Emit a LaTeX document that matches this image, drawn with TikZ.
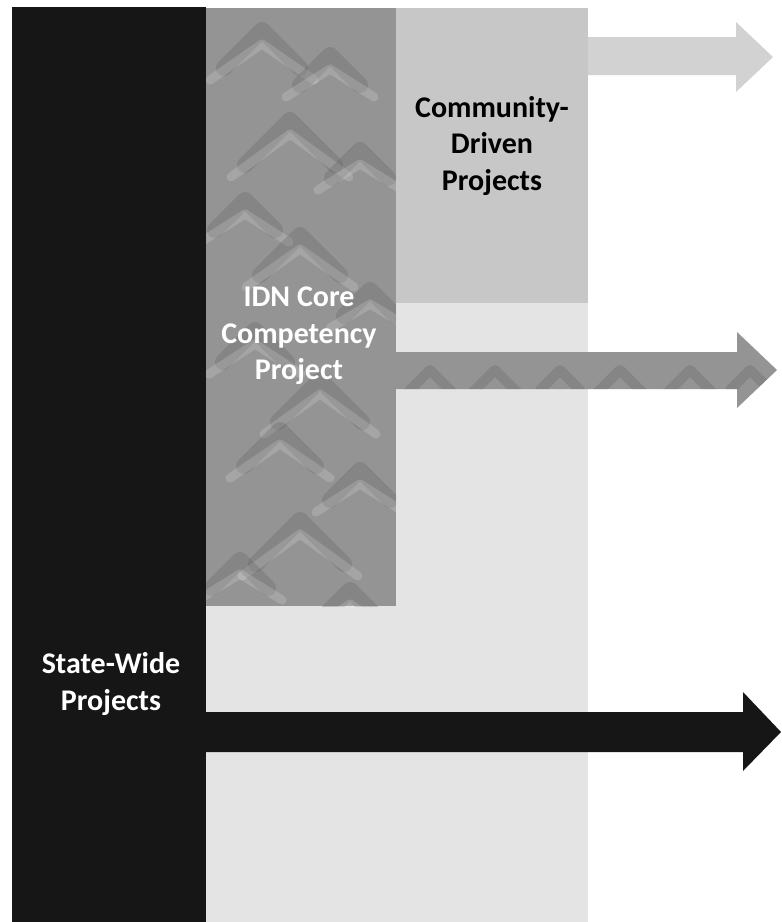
\documentclass[tikz,border=0pt]{standalone}
\usepackage{fontspec}
\setmainfont{Carlito}
\begin{document}
\begin{tikzpicture}[x=1pt,y=-1pt,
  panel/.style={rectangle, draw=none, inner sep=0pt, outer sep=0pt, anchor=north west},
  caption/.style={font=\bfseries\fontsize{30}{36.5}\selectfont, align=center, inner sep=0pt},
  grain/.style={line width=16pt, line cap=round, line join=round, draw=coregray!65!black, opacity=0.28},
  sheen/.style={line width=9pt, line cap=round, line join=round, draw=white, opacity=0.16},
]
\definecolor{statewide}{HTML}{161616}
\definecolor{coregray}{HTML}{949494}
\definecolor{community}{HTML}{C7C7C7}
\definecolor{lightbase}{HTML}{E4E4E4}
\definecolor{toparrow}{HTML}{D2D2D2}

\useasboundingbox (0,0) rectangle (782,922);

% background columns
\node[panel, fill=lightbase, minimum width=382pt, minimum height=914pt] (base) at (206,8) {};
\node[panel, fill=community, minimum width=192pt, minimum height=295pt] (comm) at (396,8) {};
\node[panel, fill=coregray, minimum width=192pt, minimum height=598pt] (core) at (204,8) {};

% marbled grain of the core column: uneven upward chevrons
\begin{scope}
  \clip (core.north west) rectangle (core.south east);
  \foreach \x/\y/\w in {262/30/38, 330/55/30, 290/120/45, 360/150/28, 245/200/30,
                        300/235/40, 370/290/26, 255/330/32, 320/380/42, 280/430/36,
                        360/470/30, 300/520/44, 240/560/28, 350/590/34} {
    \draw[grain] (\x-\w,\y+\w) -- (\x,\y) -- (\x+\w,\y+\w);
    \draw[sheen] (\x-\w-14,\y+\w+12) -- (\x,\y+14) -- (\x+\w+14,\y+\w+12);
  }
\end{scope}

\node[panel, fill=statewide, minimum width=194pt, minimum height=915pt] (state) at (12,7) {};

% arrows leaving the columns
\coordinate (tipA) at (773,57);
\coordinate (tipB) at (777,370);
\coordinate (tipC) at (781,732);

\fill[toparrow] (comm.east |- 0,37) -- (736,37) -- (736,22) -- (tipA)
  -- (736,92) -- (736,75) -- (comm.east |- 0,75) -- cycle;

\begin{scope}
  \path[fill=coregray] (core.east |- 0,352) -- (737,352) -- (737,332) -- (tipB)
    -- (737,408) -- (737,389) -- (core.east |- 0,389) -- cycle;
  \clip (core.east |- 0,352) -- (737,352) -- (737,332) -- (tipB)
    -- (737,408) -- (737,389) -- (core.east |- 0,389) -- cycle;
  \foreach \x/\w in {430/22, 495/30, 560/20, 620/28, 690/24, 750/20} {
    \draw[grain, line width=10pt] (\x-\w,370+\w) -- (\x,370) -- (\x+\w,370+\w);
  }
\end{scope}

\fill[statewide] (state.east |- 0,712) -- (743,712) -- (743,692) -- (tipC)
  -- (743,771) -- (743,752) -- (state.east |- 0,752) -- cycle;

% captions
\node[caption, text=black] (commtext) at (492,146) {Community-\\Driven\\Projects};
\node[caption, text=white] (coretext) at (299,336) {IDN Core\\Competency\\Project};
\node[caption, text=white] (statetext) at (111,684) {State-Wide\\Projects};
\end{tikzpicture}
\end{document}
